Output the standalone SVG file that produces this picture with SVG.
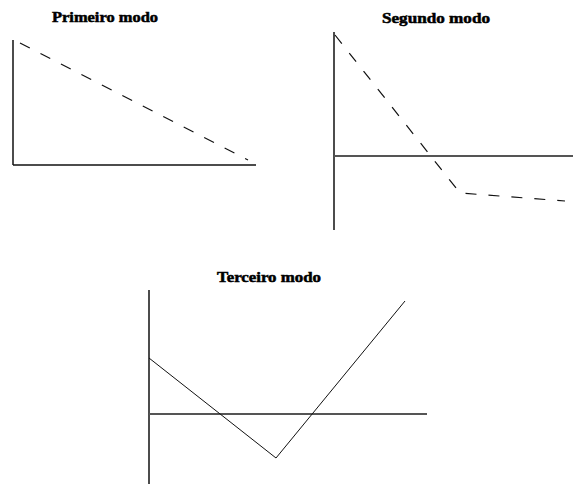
<svg xmlns="http://www.w3.org/2000/svg" width="573" height="484" viewBox="0 0 573 484">
<style>
.t{font-family:"Liberation Serif","Times New Roman",serif;font-weight:bold;font-size:14px;fill:#000;stroke:#000;stroke-width:0.5}
.ax{stroke:#111;stroke-width:1.5;fill:none}
.hx{stroke:#555;stroke-width:2;fill:none}
.cv{stroke:#111;stroke-width:1;fill:none}
.ds{stroke:#111;stroke-width:1.2;fill:none;stroke-dasharray:11 12}
</style>
<rect width="573" height="484" fill="#fff"/>
<g id="panel1">
<text class="t" x="52" y="22" textLength="106" lengthAdjust="spacingAndGlyphs">Primeiro modo</text>
<line class="ax" x1="13" y1="40" x2="13" y2="165"/>
<line class="ax" x1="13" y1="165" x2="256" y2="165"/>
<line class="ds" x1="20" y1="43" x2="248" y2="160"/>
</g>
<g id="panel2">
<text class="t" x="382" y="23" textLength="108" lengthAdjust="spacingAndGlyphs">Segundo modo</text>
<line class="ax" x1="334" y1="32" x2="334" y2="230"/>
<line class="hx" x1="334" y1="156" x2="573" y2="156"/>
<polyline class="ds" points="335,35 460,193 565,201"/>
</g>
<g id="panel3">
<text class="t" x="217" y="282" textLength="104" lengthAdjust="spacingAndGlyphs">Terceiro modo</text>
<line class="ax" x1="149" y1="290" x2="149" y2="484"/>
<line class="hx" x1="149" y1="414" x2="427" y2="414"/>
<polyline class="cv" points="149,358 276,458 405,301"/>
</g>
</svg>
